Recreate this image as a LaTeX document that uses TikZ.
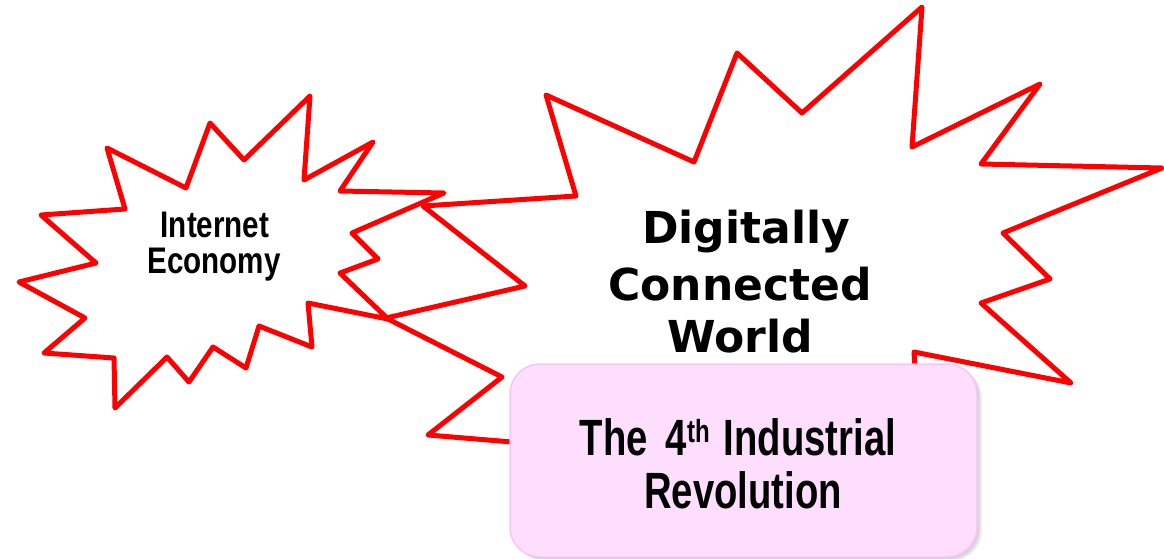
\documentclass[tikz,border=0pt]{standalone}
\usepackage{fontspec}
\newfontfamily\ieFont[FakeStretch=0.8]{Liberation Sans}
\newfontfamily\dcFont{DejaVu Sans}
\newfontfamily\irFont[FakeStretch=0.75]{Liberation Sans}
\definecolor{burstred}{RGB}{255,0,0}
\definecolor{boxpink}{RGB}{253,222,252}
\definecolor{boxedge}{RGB}{248,196,248}
\tikzset{
  burst/.style={draw=burstred, line width=5pt, line join=round},
  ietext/.style={anchor=base, inner sep=0pt, font=\ieFont\bfseries\fontsize{37}{40}\selectfont},
  dctext/.style={anchor=base, inner sep=0pt, font=\dcFont\bfseries\fontsize{44}{48}\selectfont},
  irtext/.style={anchor=base, inner sep=0pt, font=\irFont\bfseries\fontsize{51}{56}\selectfont},
  pinkbox/.style={draw=boxedge, line width=1.5pt, fill=boxpink, rounded corners=30pt,
    minimum width=467pt, minimum height=193pt, inner sep=0pt},
  shadowbox/.style={fill=black, opacity=0.06, rounded corners=30pt,
    minimum width=467pt, minimum height=193pt, inner sep=0pt}
}
\begin{document}
\begin{tikzpicture}[x=1pt,y=-1pt]
\useasboundingbox (0,0) rectangle (1164,559);
% small burst
\draw[burst] (107,148) -- (186,188) -- (210,123) -- (244,160) -- (310,96) -- (304,180)
  -- (373,142) -- (340,191) -- (444,193) -- (352,233) -- (378,259) -- (340,273)
  -- (388,319) -- (308,303) -- (312,347) -- (259,326) -- (246,368) -- (213,347)
  -- (189,382) -- (167,357) -- (115,408) -- (114,358) -- (44,353) -- (85,318)
  -- (19,282) -- (96,263) -- (41,215) -- (125,209) -- cycle;
% big burst
\draw[burst] (922,7) -- (912,147) -- (1040,84) -- (981,164) -- (1162,168) -- (1003,233)
  -- (1050,279) -- (981,303) -- (1071,383) -- (914,352) -- (917,400) -- (700,500)
  -- (560,446) -- (428,435) -- (502,377) -- (386,318) -- (525,286) -- (423,206)
  -- (576,196) -- (546,95) -- (694,162) -- (737,53) -- (802,113) -- cycle;
% texts in bursts
\node[ietext] (ie1) at (215,237) {Internet};
\node[ietext] (ie2) at (214,273) {Economy};
\node[dctext] (dc1) at (746,243) {Digitally};
\node[dctext] (dc2) at (740,300) {Connected};
\node[dctext] (dc3) at (740,352) {World};
% box with shadow
\node[shadowbox] (sh1) at (748.5,464.5) {};
\node[shadowbox] (sh2) at (747,463.5) {};
\node[shadowbox] (sh3) at (745.5,462.5) {};
\node[pinkbox] (box) at (743.5,460.5) {};
\node[irtext] (ir1) at (738,455) {The\hspace{18pt}4\raisebox{13pt}{\fontsize{32}{32}\selectfont th}\hspace{14pt}Industrial};
\node[irtext] (ir2) at (743,508) {Revolution};
\end{tikzpicture}
\end{document}
